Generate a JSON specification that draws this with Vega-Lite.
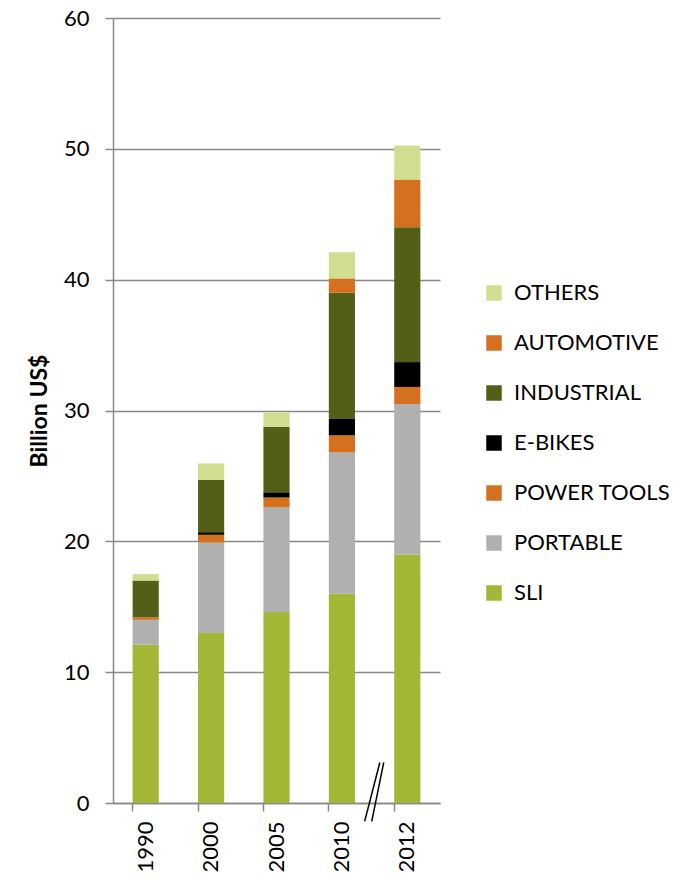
{
  "$schema": "https://vega.github.io/schema/vega-lite/v6.json",
  "width": 327,
  "height": 785,
  "autosize": "none",
  "padding": {"left": 113, "top": 18, "right": 247, "bottom": 76},
  "background": "white",
  "config": {
    "view": {"stroke": null},
    "font": "Lato"
  },
  "datasets": {
    "bars": [
      {"year": "1990", "segment": "SLI", "rank": 1, "value": 12.1},
      {"year": "1990", "segment": "PORTABLE", "rank": 2, "value": 1.9},
      {"year": "1990", "segment": "POWER TOOLS", "rank": 3, "value": 0.2},
      {"year": "1990", "segment": "E-BIKES", "rank": 4, "value": 0},
      {"year": "1990", "segment": "INDUSTRIAL", "rank": 5, "value": 2.8},
      {"year": "1990", "segment": "AUTOMOTIVE", "rank": 6, "value": 0},
      {"year": "1990", "segment": "OTHERS", "rank": 7, "value": 0.5},
      {"year": "2000", "segment": "SLI", "rank": 1, "value": 13.0},
      {"year": "2000", "segment": "PORTABLE", "rank": 2, "value": 6.9},
      {"year": "2000", "segment": "POWER TOOLS", "rank": 3, "value": 0.6},
      {"year": "2000", "segment": "E-BIKES", "rank": 4, "value": 0.2},
      {"year": "2000", "segment": "INDUSTRIAL", "rank": 5, "value": 4.0},
      {"year": "2000", "segment": "AUTOMOTIVE", "rank": 6, "value": 0},
      {"year": "2000", "segment": "OTHERS", "rank": 7, "value": 1.25},
      {"year": "2005", "segment": "SLI", "rank": 1, "value": 14.6},
      {"year": "2005", "segment": "PORTABLE", "rank": 2, "value": 8.0},
      {"year": "2005", "segment": "POWER TOOLS", "rank": 3, "value": 0.75},
      {"year": "2005", "segment": "E-BIKES", "rank": 4, "value": 0.4},
      {"year": "2005", "segment": "INDUSTRIAL", "rank": 5, "value": 5.0},
      {"year": "2005", "segment": "AUTOMOTIVE", "rank": 6, "value": 0},
      {"year": "2005", "segment": "OTHERS", "rank": 7, "value": 1.1},
      {"year": "2010", "segment": "SLI", "rank": 1, "value": 16.0},
      {"year": "2010", "segment": "PORTABLE", "rank": 2, "value": 10.8},
      {"year": "2010", "segment": "POWER TOOLS", "rank": 3, "value": 1.3},
      {"year": "2010", "segment": "E-BIKES", "rank": 4, "value": 1.3},
      {"year": "2010", "segment": "INDUSTRIAL", "rank": 5, "value": 9.6},
      {"year": "2010", "segment": "AUTOMOTIVE", "rank": 6, "value": 1.1},
      {"year": "2010", "segment": "OTHERS", "rank": 7, "value": 2.0},
      {"year": "2012", "segment": "SLI", "rank": 1, "value": 19.0},
      {"year": "2012", "segment": "PORTABLE", "rank": 2, "value": 11.5},
      {"year": "2012", "segment": "POWER TOOLS", "rank": 3, "value": 1.3},
      {"year": "2012", "segment": "E-BIKES", "rank": 4, "value": 1.9},
      {"year": "2012", "segment": "INDUSTRIAL", "rank": 5, "value": 10.3},
      {"year": "2012", "segment": "AUTOMOTIVE", "rank": 6, "value": 3.65},
      {"year": "2012", "segment": "OTHERS", "rank": 7, "value": 2.6}
    ]
  },
  "layer": [
    {
      "data": {"name": "bars"},
      "mark": {"type": "bar"},
      "encoding": {
        "x": {
          "field": "year",
          "type": "nominal",
          "sort": null,
          "scale": {"paddingInner": 0.6, "paddingOuter": 0.3},
          "axis": {
            "title": null,
            "labelAngle": -90,
            "labelFontSize": 22,
            "labelColor": "#000000",
            "labelPadding": 10,
            "domainColor": "#888888",
            "domainWidth": 1.5,
            "tickColor": "#888888",
            "tickWidth": 1.5,
            "tickSize": 8,
            "bandPosition": 0
          }
        },
        "y": {
          "field": "value",
          "type": "quantitative",
          "stack": "zero",
          "scale": {"domain": [0, 60], "nice": false},
          "axis": {
            "title": "Billion US$",
            "titleFontSize": 23,
            "titleFontWeight": "bold",
            "titleColor": "#000000",
            "titlePadding": 12,
            "values": [0, 10, 20, 30, 40, 50, 60],
            "labelFontSize": 22,
            "labelColor": "#000000",
            "labelPadding": 16,
            "grid": true,
            "gridColor": "#888888",
            "gridWidth": 1.5,
            "domainColor": "#888888",
            "domainWidth": 1.5,
            "tickColor": "#888888",
            "tickWidth": 1.5,
            "tickSize": 8
          }
        },
        "order": {"field": "rank", "type": "quantitative", "sort": "ascending"},
        "color": {
          "field": "segment",
          "type": "nominal",
          "scale": {
            "domain": ["OTHERS", "AUTOMOTIVE", "INDUSTRIAL", "E-BIKES", "POWER TOOLS", "PORTABLE", "SLI"],
            "range": ["#D0DE8F", "#D5701F", "#535E16", "#000000", "#D5701F", "#B0B0B0", "#A4B636"]
          },
          "legend": {
            "title": null,
            "orient": "none",
            "legendX": 370,
            "legendY": 264,
            "symbolType": "square",
            "symbolSize": 240,
            "symbolStrokeWidth": 0,
            "labelFontSize": 22,
            "labelColor": "#000000",
            "labelOffset": 9,
            "rowPadding": 28
          }
        }
      }
    },
    {
      "data": {"values": [{"lo": -1.4, "hi": 3.1}]},
      "mark": {"type": "rule", "color": "#000000", "strokeWidth": 1.5},
      "encoding": {
        "x": {"datum": "2010", "bandPosition": 1.95},
        "x2": {"datum": "2012", "bandPosition": -1.13},
        "y": {"field": "hi", "type": "quantitative"},
        "y2": {"field": "lo"}
      }
    },
    {
      "data": {"values": [{"lo": -1.4, "hi": 3.1}]},
      "mark": {"type": "rule", "color": "#000000", "strokeWidth": 1.5},
      "encoding": {
        "x": {"datum": "2010", "bandPosition": 2.1},
        "x2": {"datum": "2012", "bandPosition": -0.86},
        "y": {"field": "hi", "type": "quantitative"},
        "y2": {"field": "lo"}
      }
    }
  ]
}
